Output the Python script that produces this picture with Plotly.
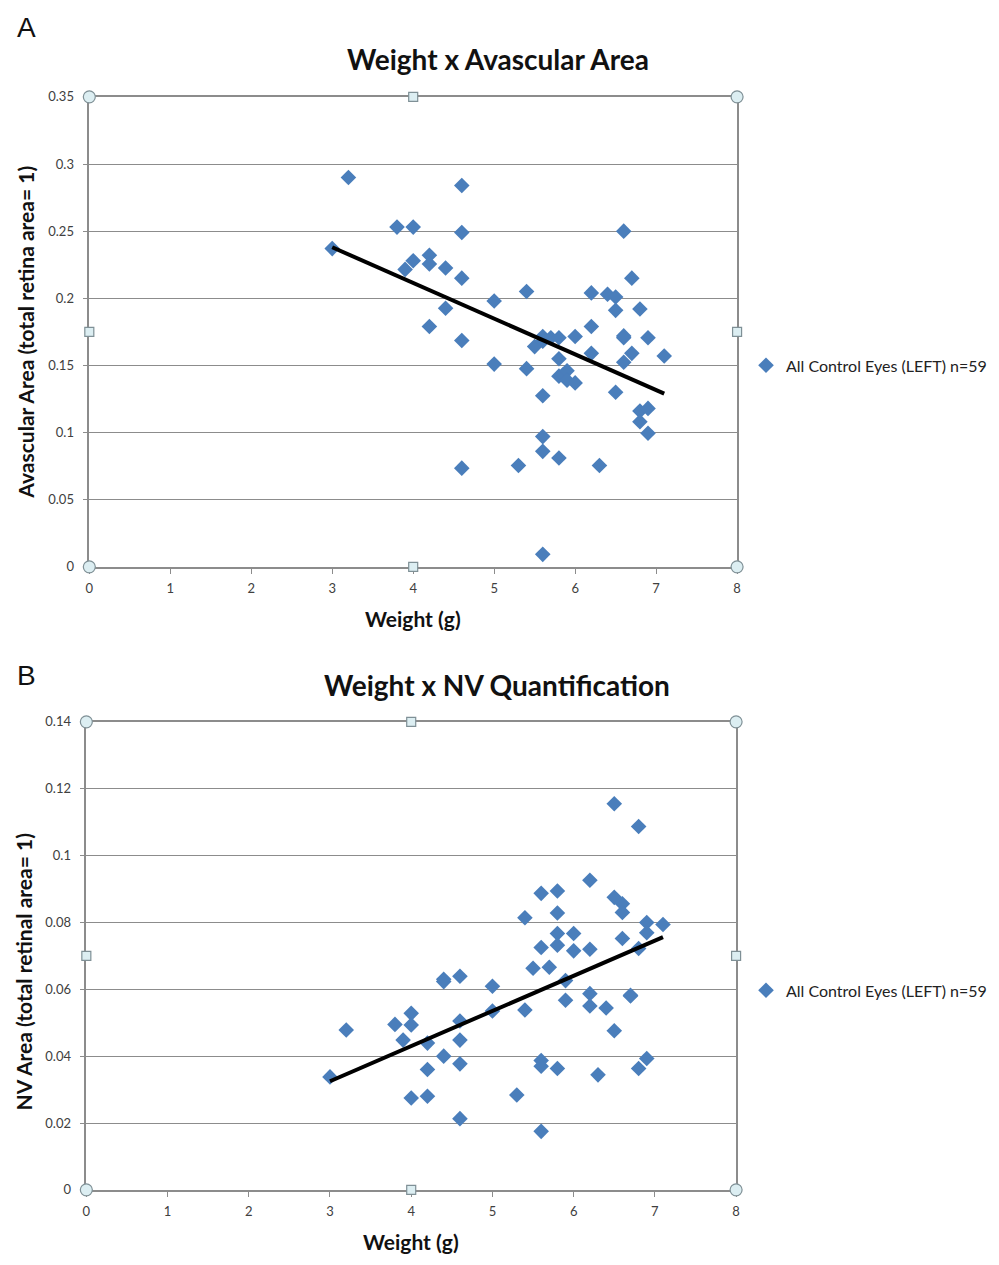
import plotly.graph_objects as go

W, H = 999, 1265

# ---------------- data ----------------
weight_a = [3.0, 3.2, 3.8, 3.9, 4.0, 4.0, 4.2, 4.2, 4.2, 4.4, 4.4, 4.6, 4.6, 4.6, 4.6, 4.6,
            5.0, 5.0, 5.3, 5.4, 5.4, 5.5, 5.6, 5.6, 5.6, 5.6, 5.6, 5.6, 5.7, 5.8, 5.8, 5.8,
            5.8, 5.85, 5.9, 5.9, 6.0, 6.0, 6.2, 6.2, 6.2, 6.3, 6.4, 6.5, 6.5, 6.5, 6.6, 6.6,
            6.6, 6.6, 6.7, 6.7, 6.8, 6.8, 6.8, 6.9, 6.9, 6.9, 7.1]
avascular = [0.237, 0.290, 0.253, 0.2215, 0.253, 0.228, 0.232, 0.2255, 0.179, 0.2225, 0.1926,
             0.284, 0.249, 0.215, 0.1686, 0.0735, 0.198, 0.151, 0.0755, 0.205, 0.1476, 0.164,
             0.1715, 0.168, 0.1274, 0.097, 0.086, 0.0093, 0.1706, 0.1706, 0.155, 0.142, 0.081,
             0.143, 0.146, 0.139, 0.1715, 0.137, 0.204, 0.179, 0.159, 0.0755, 0.203, 0.201,
             0.191, 0.130, 0.250, 0.1706, 0.172, 0.1524, 0.215, 0.159, 0.192, 0.116, 0.108,
             0.1706, 0.118, 0.0995, 0.157]

weight_b = [3.0, 3.2, 3.8, 3.9, 4.0, 4.0, 4.0, 4.2, 4.2, 4.2, 4.4, 4.4, 4.4, 4.6, 4.6, 4.6,
            4.6, 4.6, 5.0, 5.0, 5.3, 5.4, 5.4, 5.5, 5.6, 5.6, 5.6, 5.6, 5.6, 5.7, 5.8, 5.8,
            5.8, 5.8, 5.8, 5.9, 5.9, 6.0, 6.0, 6.2, 6.2, 6.2, 6.2, 6.3, 6.4, 6.5, 6.5, 6.5,
            6.6, 6.6, 6.6, 6.7, 6.7, 6.8, 6.8, 6.8, 6.9, 6.9, 6.9, 7.1]
nv_area = [0.0338, 0.0478, 0.0495, 0.0448, 0.0528, 0.0493, 0.0275, 0.0439, 0.036, 0.028,
           0.0623, 0.063, 0.040, 0.0639, 0.0505, 0.0448, 0.0377, 0.0213, 0.0609, 0.0535,
           0.0284, 0.0814, 0.0538, 0.0663, 0.0887, 0.0725, 0.0387, 0.037, 0.0175, 0.0666,
           0.0894, 0.0828, 0.0767, 0.0732, 0.0363, 0.0626, 0.0567, 0.0767, 0.0715, 0.0926,
           0.072, 0.0587, 0.055, 0.0344, 0.0544, 0.1155, 0.0875, 0.0476, 0.0856, 0.083,
           0.0752, 0.0582, 0.058, 0.1087, 0.0722, 0.0363, 0.080, 0.0769, 0.0393, 0.0794]

trend_a_x = [3.0, 7.1]
trend_a_y = [0.238, 0.129]
trend_b_x = [3.0, 7.1]
trend_b_y = [0.0325, 0.0756]

x_ticks = [0, 1, 2, 3, 4, 5, 6, 7, 8]
y_ticks_a = [0, 0.05, 0.1, 0.15, 0.2, 0.25, 0.3, 0.35]
y_ticks_a_text = ["0", "0.05", "0.1", "0.15", "0.2", "0.25", "0.3", "0.35"]
y_ticks_b = [0, 0.02, 0.04, 0.06, 0.08, 0.1, 0.12, 0.14]
y_ticks_b_text = ["0", "0.02", "0.04", "0.06", "0.08", "0.1", "0.12", "0.14"]

series_name = "All Control Eyes (LEFT) n=59"
title_a = "Weight x Avascular Area"
title_b = "Weight x NV Quantification"
ylabel_a = "Avascular Area (total retina area= 1)"
ylabel_b = "NV Area (total retinal area= 1)"
xlabel = "Weight (g)"

# ---------------- styling ----------------
BLUE = "#4A7EBB"
GRID = "#8C8C8C"
FAM = "Lato, Open Sans, sans-serif"
TICKFONT = dict(family=FAM, size=13, color="#404040")
LABFONT = dict(family=FAM, size=21, color="#111111")
TITLEFONT = dict(family=FAM, size=28, color="#111111")
LEGFONT = dict(family=FAM, size=16, color="#222222")

def px_x(p):
    return p / W

def px_y(p):
    return 1 - p / H

fig = go.Figure()

fig.add_trace(go.Scatter(x=weight_a, y=avascular, mode="markers", name=series_name,
                         marker=dict(symbol="diamond", size=12, color=BLUE),
                         xaxis="x", yaxis="y", legend="legend"))
fig.add_trace(go.Scatter(x=trend_a_x, y=trend_a_y, mode="lines", showlegend=False,
                         line=dict(color="black", width=4), xaxis="x", yaxis="y"))
fig.add_trace(go.Scatter(x=weight_b, y=nv_area, mode="markers", name=series_name,
                         marker=dict(symbol="diamond", size=12, color=BLUE),
                         xaxis="x2", yaxis="y2", legend="legend2"))
fig.add_trace(go.Scatter(x=trend_b_x, y=trend_b_y, mode="lines", showlegend=False,
                         line=dict(color="black", width=4), xaxis="x2", yaxis="y2"))

common_x = dict(range=[0, 8], tickvals=x_ticks, showgrid=False, zeroline=False,
                showline=True, linecolor=GRID, linewidth=1.5, mirror=True,
                ticks="outside", ticklen=5, tickcolor=GRID, tickfont=TICKFONT,
                ticklabelstandoff=4, fixedrange=True)
common_y = dict(showgrid=True, gridcolor=GRID, gridwidth=1, zeroline=False,
                showline=True, linecolor=GRID, linewidth=1.5, mirror=True,
                ticks="outside", ticklen=5, tickcolor=GRID, tickfont=TICKFONT,
                ticklabelstandoff=6, fixedrange=True)

fig.update_layout(
    width=W, height=H,
    margin=dict(l=0, r=0, t=0, b=0),
    paper_bgcolor="white", plot_bgcolor="white",
    xaxis=dict(domain=[px_x(86), px_x(739)], anchor="y", **common_x),
    yaxis=dict(domain=[px_y(566), px_y(90)], anchor="x", range=[0, 0.35],
               tickvals=y_ticks_a, ticktext=y_ticks_a_text, **common_y),
    xaxis2=dict(domain=[px_x(83), px_x(738)], anchor="y2", **common_x),
    yaxis2=dict(domain=[px_y(1197), px_y(723)], anchor="x2", range=[0, 0.14],
                tickvals=y_ticks_b, ticktext=y_ticks_b_text, **common_y),
    legend=dict(x=px_x(748), y=px_y(362), xanchor="left", yanchor="middle",
                font=LEGFONT, bgcolor="rgba(0,0,0,0)", itemwidth=30),
    legend2=dict(x=px_x(748), y=px_y(995), xanchor="left", yanchor="middle",
                 font=LEGFONT, bgcolor="rgba(0,0,0,0)", itemwidth=30),
    showlegend=True,
)

ann = []
ann.append(dict(text="A", x=px_x(11), y=px_y(20), xref="paper", yref="paper",
                xanchor="left", yanchor="middle", showarrow=False,
                font=dict(family="Liberation Sans, Arial", size=28, color="#111111")))
ann.append(dict(text="B", x=px_x(11), y=px_y(676), xref="paper", yref="paper",
                xanchor="left", yanchor="middle", showarrow=False,
                font=dict(family="Liberation Sans, Arial", size=28, color="#111111")))
ann.append(dict(text="<b>" + title_a + "</b>", x=px_x(498), y=px_y(52), xref="paper", yref="paper",
                xanchor="center", yanchor="middle", showarrow=False, font=TITLEFONT))
ann.append(dict(text="<b>" + title_b + "</b>", x=px_x(497), y=px_y(686), xref="paper", yref="paper",
                xanchor="center", yanchor="middle", showarrow=False, font=TITLEFONT))
ann.append(dict(text="<b>" + xlabel + "</b>", x=px_x(412), y=px_y(618), xref="paper", yref="paper",
                xanchor="center", yanchor="middle", showarrow=False, font=LABFONT))
ann.append(dict(text="<b>" + xlabel + "</b>", x=px_x(410), y=px_y(1249), xref="paper", yref="paper",
                xanchor="center", yanchor="middle", showarrow=False, font=LABFONT))
ann.append(dict(text="<b>" + ylabel_a + "</b>", x=px_x(22), y=px_y(328), xref="paper", yref="paper",
                xanchor="center", yanchor="middle", showarrow=False, textangle=-90, font=LABFONT))
ann.append(dict(text="<b>" + ylabel_b + "</b>", x=px_x(20), y=px_y(976), xref="paper", yref="paper",
                xanchor="center", yanchor="middle", showarrow=False, textangle=-90, font=LABFONT))
fig.update_layout(annotations=ann)

# selection handles on plot-area frame
shapes = []
HFILL = "#DCEEF2"
HLINE = "#7F9096"
for xr, yr in [("x domain", "y domain"), ("x2 domain", "y2 domain")]:
    for cx, cy in [(0, 0), (0, 1), (1, 0), (1, 1)]:
        shapes.append(dict(type="circle", xref=xr, yref=yr, xsizemode="pixel", ysizemode="pixel",
                           xanchor=cx, yanchor=cy, x0=-6, x1=6, y0=-6, y1=6,
                           fillcolor=HFILL, line=dict(color=HLINE, width=1.2), layer="above"))
    for cx, cy in [(0.5, 0), (0.5, 1), (0, 0.5), (1, 0.5)]:
        shapes.append(dict(type="rect", xref=xr, yref=yr, xsizemode="pixel", ysizemode="pixel",
                           xanchor=cx, yanchor=cy, x0=-4.5, x1=4.5, y0=-4.5, y1=4.5,
                           fillcolor=HFILL, line=dict(color=HLINE, width=1.2), layer="above"))
fig.update_layout(shapes=shapes)

fig.write_html("out.html")
